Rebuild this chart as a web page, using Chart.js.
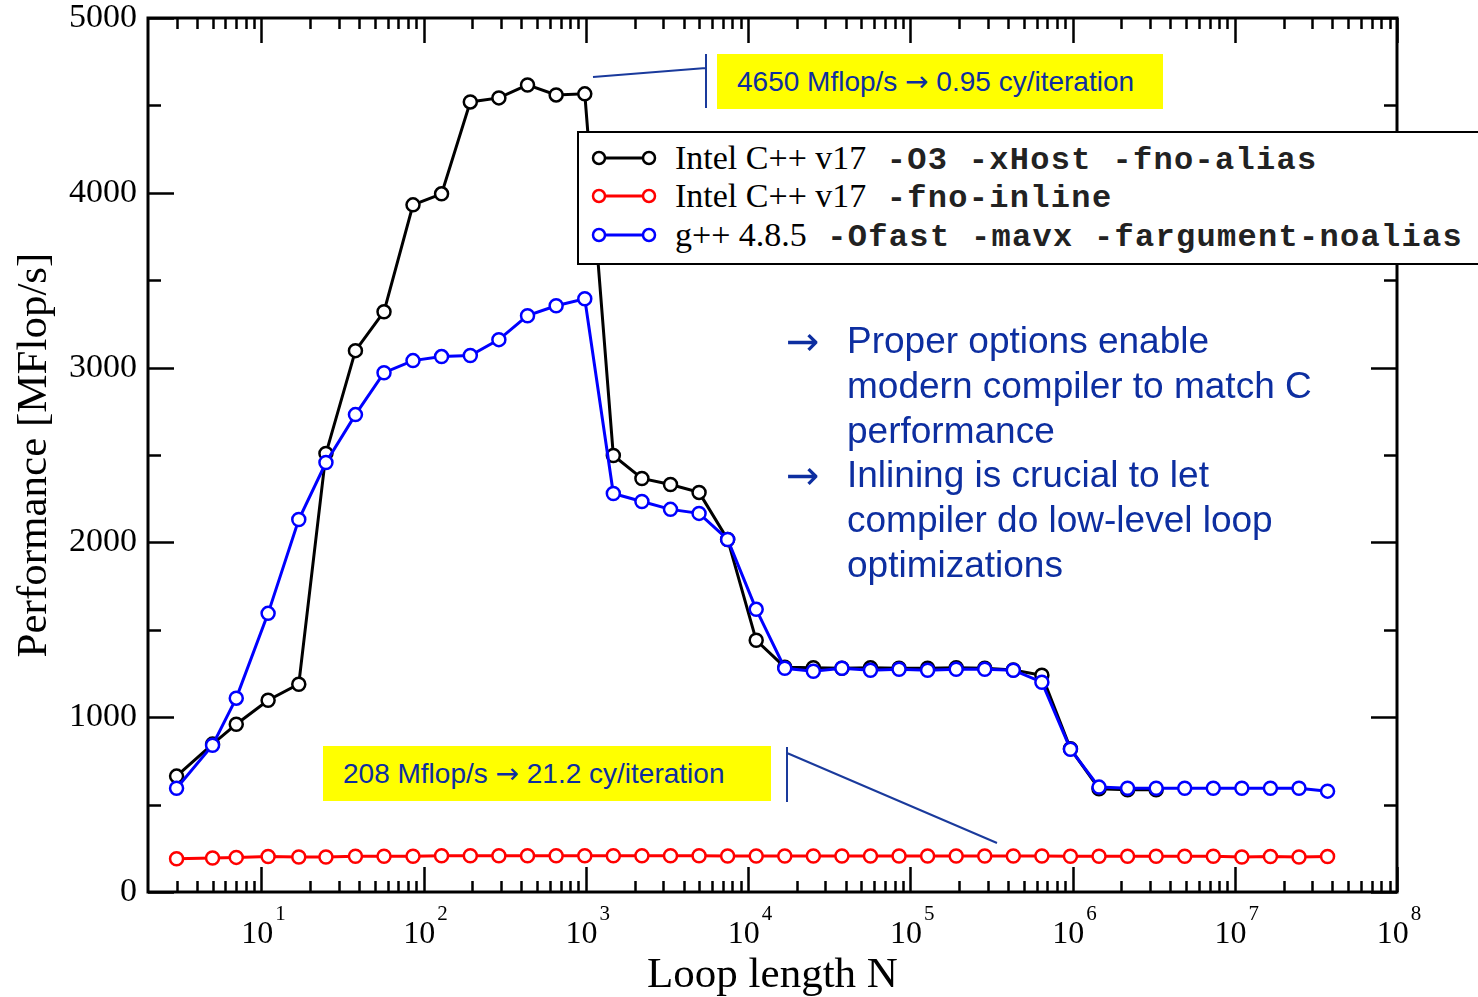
<!DOCTYPE html>
<html>
<head>
<meta charset="utf-8">
<script src="https://cdn.jsdelivr.net/npm/chart.js@4.4.1/dist/chart.umd.min.js"></script>
<style>
  body { margin: 0; background: #fff; }
  #wrap { position: relative; width: 1478px; height: 997px; overflow: hidden; }
  #myChart { position: absolute; left: 0; top: 0; }
  .note {
    position: absolute; background: #ffff00; color: #0d2ea0;
    font-family: "Liberation Sans", Arial, sans-serif; font-size: 28px;
    height: 55px; line-height: 55px; box-sizing: border-box; white-space: nowrap;
  }
  .ar { font-family: "DejaVu Sans", sans-serif; }
  #legend {
    position: absolute; left: 577px; top: 131px; width: 940px; height: 134px;
    border: 2px solid #000; background: #fff; box-sizing: border-box;
  }
  #legend .row { position: absolute; left: 0; height: 40px; line-height: 40px; white-space: pre; }
  #legend svg { position: absolute; left: 10px; top: 0; }
  #legend .txt { position: absolute; left: 96px; top: 0; }
  .serif { font-family: "Liberation Serif", "Times New Roman", serif; font-size: 34px; color: #000; }
  .mono { font-family: "Liberation Mono", "Courier New", monospace; font-size: 32px; letter-spacing: 1.3px; font-weight: bold; color: #222; }
  .bullets {
    position: absolute; left: 788px; top: 319px; color: #0d2ea0;
    font-family: "Liberation Sans", Arial, sans-serif; font-size: 37px; line-height: 44.8px;
  }
  .bullets .arr { position: absolute; left: -2px; font-family: "DejaVu Sans", sans-serif; font-size: 40px; }
  .bullets .txt { position: absolute; left: 59px; white-space: nowrap; }
</style>
</head>
<body>
<div id="wrap">
  <canvas id="myChart" width="1478" height="997"></canvas>

  <div id="legend">
    <div class="row" style="top:5px">
      <svg width="72" height="40"><line x1="10" y1="20" x2="60" y2="20" stroke="#000" stroke-width="3"/><circle cx="10" cy="20" r="6" fill="#fff" stroke="#000" stroke-width="2.5"/><circle cx="60" cy="20" r="6" fill="#fff" stroke="#000" stroke-width="2.5"/></svg>
      <div class="txt"><span class="serif">Intel C++ v17</span><span class="mono"> -O3 -xHost -fno-alias</span></div>
    </div>
    <div class="row" style="top:43px">
      <svg width="72" height="40"><line x1="10" y1="20" x2="60" y2="20" stroke="#ff0000" stroke-width="3"/><circle cx="10" cy="20" r="6" fill="#fff" stroke="#ff0000" stroke-width="2.5"/><circle cx="60" cy="20" r="6" fill="#fff" stroke="#ff0000" stroke-width="2.5"/></svg>
      <div class="txt"><span class="serif">Intel C++ v17</span><span class="mono"> -fno-inline</span></div>
    </div>
    <div class="row" style="top:82px">
      <svg width="72" height="40"><line x1="10" y1="20" x2="60" y2="20" stroke="#0000ff" stroke-width="3"/><circle cx="10" cy="20" r="6" fill="#fff" stroke="#0000ff" stroke-width="2.5"/><circle cx="60" cy="20" r="6" fill="#fff" stroke="#0000ff" stroke-width="2.5"/></svg>
      <div class="txt"><span class="serif">g++ 4.8.5</span><span class="mono"> -Ofast -mavx -fargument-noalias</span></div>
    </div>
  </div>

  <div class="note" style="left:717px; top:54px; width:446px; padding-left:20px;">4650 Mflop/s <span class="ar">→</span> 0.95 cy/iteration</div>
  <div class="note" style="left:323px; top:746px; width:448px; padding-left:20px;">208 Mflop/s <span class="ar">→</span> 21.2 cy/iteration</div>

  <div class="bullets">
    <div class="arr" style="top:0">→</div>
    <div class="txt" style="top:0">Proper options enable<br>modern compiler to match C<br>performance</div>
    <div class="arr" style="top:134.4px">→</div>
    <div class="txt" style="top:134.4px">Inlining is crucial to let<br>compiler do low-level loop<br>optimizations</div>
  </div>
</div>

<script>
// loop length N (x) and performance in MFlop/s (y)
const loopLength = [3, 5, 7, 11, 17, 25, 38, 57, 86, 129, 194, 291, 437, 656, 985,
  1477, 2216, 3325, 4987, 7481, 11222, 16834, 25251, 37877, 56815, 85223, 127834,
  191751, 287627, 431440, 647160, 970740, 1456110, 2184165, 3276248, 4914372,
  7371558, 11057337, 16586006, 24879009, 37318513];

const intelO3 = [663, 846, 960, 1097, 1189, 2509, 3097, 3320, 3931, 3994, 4520, 4543,
  4617, 4560, 4566, 2497, 2366, 2331, 2286, 2017, 1440, 1286, 1283, 1280, 1283, 1280,
  1280, 1283, 1280, 1270, 1240, 820, 590, 585, 585, null, null, null, null, null, null];

const intelNoInline = [190, 195, 198, 203, 200, 200, 205, 205, 205, 207, 207, 207, 207,
  207, 207, 207, 207, 207, 207, 206, 206, 206, 206, 206, 206, 206, 206, 206, 206, 206,
  206, 205, 205, 205, 205, 205, 205, 200, 203, 200, 203];

const gccOfast = [594, 840, 1109, 1594, 2131, 2457, 2731, 2971, 3040, 3063, 3069, 3160,
  3297, 3354, 3394, 2280, 2234, 2189, 2166, 2017, 1617, 1280, 1263, 1280, 1269, 1274,
  1269, 1274, 1274, 1269, 1200, 817, 600, 594, 594, 594, 594, 594, 594, 594, 577];

const seriesLabels = ["Intel C++ v17 -O3 -xHost -fno-alias", "Intel C++ v17 -fno-inline", "g++ 4.8.5 -Ofast -mavx -fargument-noalias"];
const yTicks = [0, 1000, 2000, 3000, 4000, 5000];
const xDecades = [1, 2, 3, 4, 5, 6, 7, 8];

function toPoints(vals) {
  const pts = [];
  for (let i = 0; i < loopLength.length; i++) {
    if (vals[i] !== null) pts.push({ x: loopLength[i], y: vals[i] });
  }
  return pts;
}

function series(label, vals, color, order) {
  return {
    label: label,
    data: toPoints(vals),
    borderColor: color,
    backgroundColor: "#fff",
    borderWidth: 3,
    pointRadius: 6.5,
    pointBorderWidth: 2.5,
    pointBackgroundColor: "#fff",
    pointBorderColor: color,
    tension: 0,
    order: order
  };
}

// frame with inward ticks on all four sides (xmgrace look)
const framePlugin = {
  id: "frame",
  beforeDatasetsDraw(chart) {
    const ctx = chart.ctx, a = chart.chartArea;
    const xs = chart.scales.x, ys = chart.scales.y;
    ctx.save();
    ctx.strokeStyle = "#000";
    ctx.lineWidth = 2.5;
    ctx.beginPath();
    for (let v = 0; v <= 5000; v += 500) {
      const y = Math.round(ys.getPixelForValue(v)) + 0.5;
      const len = v % 1000 === 0 ? 26 : 13;
      ctx.moveTo(a.left, y); ctx.lineTo(a.left + len, y);
      ctx.moveTo(a.right, y); ctx.lineTo(a.right - len, y);
    }
    for (let k = 0; k <= 8; k++) {
      for (let m = 1; m <= 9; m++) {
        const v = m * Math.pow(10, k);
        if (v <= 2 || v > 1e8) continue;
        const x = Math.round(xs.getPixelForValue(v)) + 0.5;
        const len = m === 1 ? 25 : 11;
        ctx.moveTo(x, a.bottom); ctx.lineTo(x, a.bottom - len);
        ctx.moveTo(x, a.top); ctx.lineTo(x, a.top + len);
      }
    }
    ctx.stroke();
    ctx.lineWidth = 3;
    ctx.strokeRect(a.left, a.top, a.right - a.left, a.bottom - a.top);
    ctx.restore();
  },
  afterDraw(chart) {
    const ctx = chart.ctx, a = chart.chartArea;
    const xs = chart.scales.x;
    ctx.save();
    ctx.fillStyle = "#000";
    ctx.textBaseline = "alphabetic";
    xDecades.forEach(function (k) {
      const x = xs.getPixelForValue(Math.pow(10, k));
      ctx.font = "32px 'Liberation Serif'";
      const w1 = ctx.measureText("10").width;
      ctx.font = "21px 'Liberation Serif'";
      const w2 = ctx.measureText(String(k)).width;
      const x0 = x + 2 - (w1 + 2 + w2) / 2;
      ctx.font = "32px 'Liberation Serif'";
      ctx.textAlign = "left";
      ctx.fillText("10", x0, a.bottom + 51);
      ctx.font = "21px 'Liberation Serif'";
      ctx.fillText(String(k), x0 + w1 + 2, a.bottom + 28);
    });
    // annotation connectors
    ctx.strokeStyle = "#1a3a9c";
    ctx.lineWidth = 2;
    ctx.beginPath();
    ctx.moveTo(593, 77); ctx.lineTo(706, 68);
    ctx.moveTo(706, 54); ctx.lineTo(706, 108);
    ctx.moveTo(787, 747); ctx.lineTo(787, 802);
    ctx.moveTo(787, 753); ctx.lineTo(997, 843);
    ctx.stroke();
    ctx.restore();
  }
};

const canva = document.getElementById("myChart");

var myChart = new Chart(canva.getContext("2d"), {
  type: "line",
  data: {
    datasets: [
      series(seriesLabels[0], intelO3, "#000000", 1),
      series(seriesLabels[1], intelNoInline, "#ff0000", 2),
      series(seriesLabels[2], gccOfast, "#0000ff", 0)
    ]
  },
  options: {
    responsive: false,
    animation: false,
    devicePixelRatio: 1,
    layout: { padding: { left: 0, right: 81, top: 18, bottom: 0 } },
    plugins: { legend: { display: false }, tooltip: { enabled: false } },
    scales: {
      x: {
        type: "logarithmic",
        min: 2,
        max: 1e8,
        grid: { display: false, drawTicks: false },
        border: { display: false },
        ticks: { display: false },
        title: {
          display: true,
          text: "Loop length N",
          color: "#000",
          font: { family: "Liberation Serif", size: 43, lineHeight: 1 },
          padding: 0
        },
        afterFit: function (s) { s.height = 105; s.paddingLeft = 0; s.paddingRight = 0; }
      },
      y: {
        min: 0,
        max: 5000,
        afterBuildTicks: function (s) { s.ticks = yTicks.map(function (v) { return { value: v }; }); },
        ticks: {
          padding: 11,
          color: "#000",
          font: { family: "Liberation Serif", size: 34, lineHeight: 1 },
          callback: function (v) { return String(v); }
        },
        grid: { display: false, drawTicks: false },
        border: { display: false },
        title: {
          display: true,
          text: "Performance [MFlop/s]",
          color: "#000",
          font: { family: "Liberation Serif", size: 43, lineHeight: 1 },
          padding: { top: 13, bottom: 0 }
        },
        afterFit: function (s) { s.width = 148; s.paddingTop = 0; s.paddingBottom = 0; }
      }
    }
  },
  plugins: [framePlugin]
});
</script>
</body>
</html>
